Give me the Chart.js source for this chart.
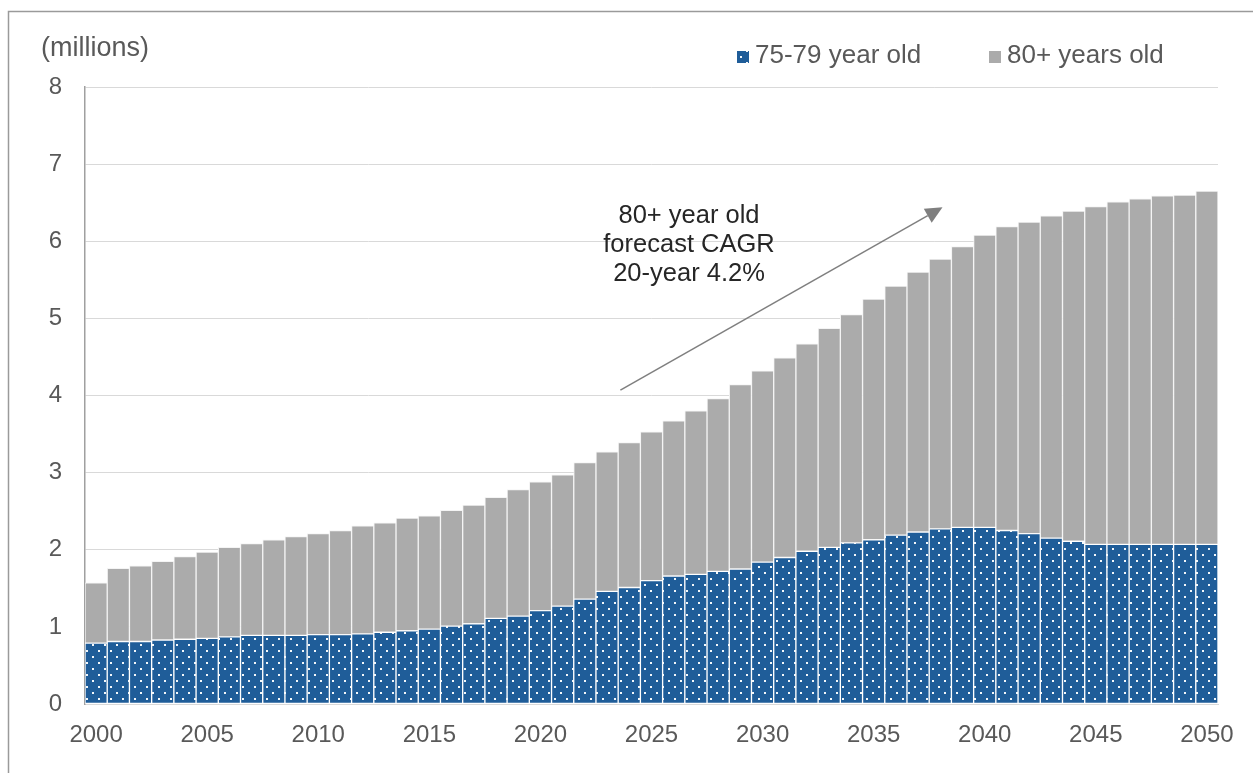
<!DOCTYPE html>
<html>
<head>
<meta charset="utf-8">
<script src="https://cdn.jsdelivr.net/npm/chart.js@4/dist/chart.umd.min.js"></script>
<style>
  html, body { margin: 0; padding: 0; background: #ffffff; }
  #wrap { width: 1253px; height: 773px; position: relative; }
  canvas { display: block; }
</style>
</head>
<body>
<div id="wrap"><canvas id="chart" width="1253" height="773"></canvas></div>
<script>
// Population aged 75+ (millions), 2000-2050
const years = [
  '2000','2001','2002','2003','2004','2005','2006','2007','2008','2009',
  '2010','2011','2012','2013','2014','2015','2016','2017','2018','2019',
  '2020','2021','2022','2023','2024','2025','2026','2027','2028','2029',
  '2030','2031','2032','2033','2034','2035','2036','2037','2038','2039',
  '2040','2041','2042','2043','2044','2045','2046','2047','2048','2049','2050'
];

const age75to79 = [
  0.79, 0.81, 0.81, 0.83, 0.84, 0.85, 0.87, 0.89, 0.89, 0.89,
  0.90, 0.90, 0.91, 0.93, 0.95, 0.97, 1.01, 1.04, 1.11, 1.14,
  1.21, 1.27, 1.36, 1.46, 1.51, 1.60, 1.66, 1.68, 1.72, 1.75,
  1.84, 1.90, 1.98, 2.03, 2.09, 2.13, 2.19, 2.23, 2.27, 2.29,
  2.29, 2.25, 2.21, 2.15, 2.11, 2.07, 2.07, 2.07, 2.07, 2.07, 2.07
];

const age80plus = [
  0.78, 0.95, 0.98, 1.02, 1.07, 1.12, 1.16, 1.19, 1.24, 1.28,
  1.31, 1.35, 1.40, 1.42, 1.46, 1.47, 1.50, 1.54, 1.57, 1.64,
  1.67, 1.70, 1.77, 1.81, 1.88, 1.93, 2.01, 2.12, 2.24, 2.39,
  2.48, 2.59, 2.69, 2.84, 2.96, 3.12, 3.23, 3.37, 3.50, 3.64,
  3.79, 3.94, 4.04, 4.18, 4.28, 4.38, 4.44, 4.48, 4.52, 4.53, 4.58
];

const yTicks = [0, 1, 2, 3, 4, 5, 6, 7, 8];

const seriesNames = ['75-79 year old', '80+ years old'];
const annotationLines = ['80+ year old', 'forecast CAGR', '20-year 4.2%'];
const unitLabel = '(millions)';

const FONT = '"Liberation Sans", Arial, sans-serif';
const TEXT_GREY = '#595959';

// Dotted blue fill: white dots on an offset grid
function makeDotPattern() {
  const c = document.createElement('canvas');
  c.width = 12; c.height = 12;
  const g = c.getContext('2d');
  g.fillStyle = '#1f5d99';
  g.fillRect(0, 0, 12, 12);
  g.fillStyle = 'rgba(255,255,255,0.95)';
  g.fillRect(2, 2, 2, 2);
  g.fillRect(8, 8, 2, 2);
  return document.getElementById('chart').getContext('2d').createPattern(c, 'repeat');
}
const bluePattern = makeDotPattern();

// Outer frame, unit label, legend, arrow and annotation
const decorations = {
  id: 'decorations',
  beforeDraw(chart) {
    const ctx = chart.ctx;
    ctx.save();
    ctx.fillStyle = '#ffffff';
    ctx.fillRect(0, 0, chart.width, chart.height);
    ctx.strokeStyle = '#9a9a9a';
    ctx.lineWidth = 1.5;
    ctx.beginPath();
    ctx.moveTo(8.5, chart.height);
    ctx.lineTo(8.5, 11.5);
    ctx.lineTo(chart.width, 11.5);
    ctx.stroke();
    ctx.restore();
  },
  afterDraw(chart) {
    const ctx = chart.ctx;
    const xs = chart.scales.x, ys = chart.scales.y;
    ctx.save();

    // unit label
    ctx.fillStyle = TEXT_GREY;
    ctx.font = '27px ' + FONT;
    ctx.textAlign = 'left';
    ctx.textBaseline = 'middle';
    ctx.fillText(unitLabel, 41, 49);

    // legend
    ctx.font = '26px ' + FONT;
    const legendItems = [
      { x: 737, fill: chart.data.datasets[0].backgroundColor, text: chart.data.datasets[0].label },
      { x: 989, fill: chart.data.datasets[1].backgroundColor, text: chart.data.datasets[1].label }
    ];
    legendItems.forEach(it => {
      ctx.fillStyle = it.fill;
      ctx.fillRect(it.x, 51, 12, 12);
      ctx.fillStyle = TEXT_GREY;
      ctx.fillText(it.text, it.x + 18, 56);
    });

    // arrow
    const x0 = xs.getPixelForValue(23.6), y0 = ys.getPixelForValue(4.07);
    const x1 = xs.getPixelForValue(38.1), y1 = ys.getPixelForValue(6.44);
    const ang = Math.atan2(y1 - y0, x1 - x0);
    const headLen = 17, headHalf = 8;
    const bx = x1 - headLen * Math.cos(ang), by = y1 - headLen * Math.sin(ang);
    ctx.strokeStyle = '#7f7f7f';
    ctx.fillStyle = '#7f7f7f';
    ctx.lineWidth = 1.5;
    ctx.beginPath();
    ctx.moveTo(x0, y0);
    ctx.lineTo(bx, by);
    ctx.stroke();
    ctx.beginPath();
    ctx.moveTo(x1, y1);
    ctx.lineTo(bx + headHalf * Math.sin(ang), by - headHalf * Math.cos(ang));
    ctx.lineTo(bx - headHalf * Math.sin(ang), by + headHalf * Math.cos(ang));
    ctx.closePath();
    ctx.fill();

    // annotation text
    ctx.fillStyle = '#262626';
    ctx.font = '25.5px ' + FONT;
    ctx.textAlign = 'center';
    ctx.textBaseline = 'middle';
    annotationLines.forEach((line, i) => {
      ctx.fillText(line, 689, 216 + i * 29);
    });

    ctx.restore();
  }
};

new Chart(document.getElementById('chart'), {
  type: 'bar',
  data: {
    labels: years,
    datasets: [
      {
        label: seriesNames[0],
        data: age75to79,
        backgroundColor: bluePattern,
        borderColor: '#ffffff',
        borderWidth: 1,
        borderSkipped: false
      },
      {
        label: seriesNames[1],
        data: age80plus,
        backgroundColor: '#ababab',
        borderColor: '#f4f4f4',
        borderWidth: 1,
        borderSkipped: false
      }
    ]
  },
  options: {
    responsive: false,
    animation: false,
    layout: { padding: { left: 0, right: 35, top: 87, bottom: 0 } },
    datasets: { bar: { categoryPercentage: 1.0, barPercentage: 1.0 } },
    plugins: {
      legend: { display: false },
      tooltip: { enabled: false }
    },
    scales: {
      x: {
        stacked: true,
        grid: { display: false, drawTicks: false },
        border: { display: true, color: '#d9d9d9', width: 1 },
        ticks: {
          autoSkip: false,
          maxRotation: 0,
          minRotation: 0,
          padding: 17,
          color: TEXT_GREY,
          font: { family: FONT, size: 24 },
          callback: function (value) {
            const y = years[value];
            return Number(y) % 5 === 0 ? y : '';
          }
        },
        afterFit(scale) { scale.height = 69; }
      },
      y: {
        stacked: true,
        min: 0,
        max: 8,
        afterBuildTicks(scale) { scale.ticks = yTicks.map(v => ({ value: v })); },
        grid: { color: '#d9d9d9', lineWidth: 1, drawTicks: false },
        border: { display: true, color: '#a0a0a0', width: 1.5 },
        ticks: {
          padding: 23,
          color: TEXT_GREY,
          font: { family: FONT, size: 24 }
        },
        afterFit(scale) { scale.width = 85; }
      }
    }
  },
  plugins: [decorations]
});
</script>
</body>
</html>
